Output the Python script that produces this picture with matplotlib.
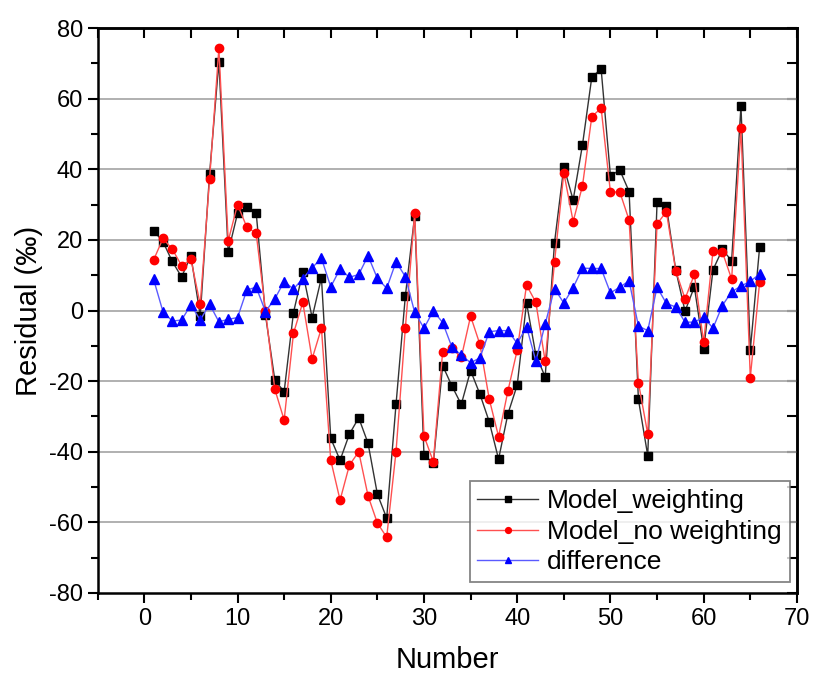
import matplotlib
matplotlib.use("Agg")
import matplotlib.pyplot as plt
from matplotlib.ticker import MultipleLocator

numbers = list(range(1, 67))

model_weighting = [22.6, 19.5, 13.9, 9.5, 15.5, -1.5, 38.6, 70.5, 16.5, 27.5,
                   29.2, 27.7, -1.3, -19.7, -23.0, -0.6, 10.8, -2.0, 9.3, -36.2,
                   -42.4, -35.0, -30.4, -37.6, -52.0, -58.8, -26.6, 4.1, 26.8, -40.9,
                   -43.3, -15.6, -21.4, -26.6, -17.0, -23.7, -31.5, -42.1, -29.3, -21.1,
                   2.2, -12.6, -18.8, 19.2, 40.7, 31.3, 46.9, 66.1, 68.4, 38.1,
                   39.8, 33.7, -25.2, -41.1, 30.6, 29.6, 11.5, -0.2, 6.7, -11.0,
                   11.5, 17.3, 14.1, 57.9, -11.2, 17.9]

model_no_weighting = [14.3, 20.4, 17.4, 12.7, 14.5, 1.7, 37.1, 74.3, 19.7, 30.0,
                      23.6, 21.9, -0.1, -22.3, -31.0, -6.5, 2.3, -13.7, -5.0, -42.4,
                      -53.7, -43.8, -40.0, -52.5, -60.2, -64.2, -40.0, -5.0, 27.5, -35.5,
                      -42.8, -11.7, -10.7, -13.3, -1.6, -9.6, -25.1, -35.7, -22.8, -11.2,
                      7.2, 2.3, -14.4, 13.7, 39.0, 25.2, 35.3, 54.9, 57.3, 33.5,
                      33.6, 25.6, -20.4, -35.0, 24.5, 28.0, 11.3, 3.3, 10.2, -9.0,
                      16.9, 16.6, 8.9, 51.6, -19.0, 8.0]

difference = [8.8, -0.3, -3.0, -2.7, 1.6, -2.7, 1.8, -3.2, -2.5, -2.0,
              5.8, 6.6, -0.3, 3.3, 8.2, 6.1, 9.0, 12.1, 14.8, 6.7,
              11.8, 9.4, 10.2, 15.5, 9.1, 6.3, 13.8, 9.6, -0.5, -5.0,
              -0.1, -3.4, -10.4, -12.6, -14.8, -13.4, -6.0, -5.7, -5.7, -9.3,
              -4.6, -14.3, -3.8, 6.2, 2.1, 6.5, 12.0, 11.9, 11.9, 5.0,
              6.6, 8.4, -4.4, -5.7, 6.6, 2.0, 1.0, -3.3, -3.3, -1.9,
              -5.0, 1.4, 5.3, 6.9, 8.3, 10.3]

series_labels = ["Model_weighting", "Model_no weighting", "difference"]
x_ticks = [0, 10, 20, 30, 40, 50, 60, 70]
y_ticks = [-80, -60, -40, -20, 0, 20, 40, 60, 80]

plt.rcParams["font.family"] = ["Liberation Sans", "DejaVu Sans"]
plt.rcParams["axes.unicode_minus"] = False

fig = plt.figure(figsize=(8.14, 6.75), dpi=100)
ax = fig.add_axes([0.120, 0.1215, 0.859, 0.837])

l1, = ax.plot(numbers, model_weighting, color="#333333", lw=1.0,
              marker="s", ms=5.5, mfc="black", mec="black", label=series_labels[0], zorder=3)
l2, = ax.plot(numbers, model_no_weighting, color="#ff5050", lw=1.0,
              marker="o", ms=6, mfc="red", mec="red", label=series_labels[1], zorder=4)
l3, = ax.plot(numbers, difference, color="#5a5aff", lw=1.0,
              marker="^", ms=6.5, mfc="blue", mec="blue", label=series_labels[2], zorder=5)

ax.set_xlim(-5, 70)
ax.set_ylim(-80, 80)
ax.set_xticks(x_ticks)
ax.set_yticks(y_ticks)
ax.xaxis.set_minor_locator(MultipleLocator(5))
ax.yaxis.set_minor_locator(MultipleLocator(10))

for yv in y_ticks[1:-1]:
    ax.axhline(yv, color="#aaaaaa", lw=1.3, zorder=1)

for s in ax.spines.values():
    s.set_linewidth(1.8)

ax.tick_params(axis="both", which="both", direction="out", width=1.5,
               labelsize=17, top=False, right=False)
ax.tick_params(which="major", length=7)
ax.tick_params(which="minor", length=5)

# inward mirrored ticks on top and right
sx = ax.secondary_xaxis("top")
sx.set_xticks(x_ticks)
sx.xaxis.set_minor_locator(MultipleLocator(5))
sx.tick_params(which="both", direction="in", labeltop=False, width=1.5, length=7)
sx.spines["top"].set_linewidth(1.8)
sy = ax.secondary_yaxis("right")
sy.set_yticks(y_ticks)
sy.yaxis.set_minor_locator(MultipleLocator(10))
sy.tick_params(which="both", direction="in", labelright=False, width=1.5, length=7)
sy.spines["right"].set_linewidth(1.8)

ax.set_xlabel("Number", fontsize=21, labelpad=12)
ax.set_ylabel("Residual (‰)", fontsize=21, labelpad=4)

leg = ax.legend(handles=[l1, l2, l3], loc="lower right", fontsize=19,
                frameon=True, fancybox=False, edgecolor="#666666",
                borderpad=0.3, handlelength=2.3, handletextpad=0.35,
                labelspacing=0.25, borderaxespad=0.0,
                bbox_to_anchor=(0.99, 0.019), markerscale=0.7)
leg.get_frame().set_linewidth(1.3)

fig.savefig("out.png", dpi=100)
